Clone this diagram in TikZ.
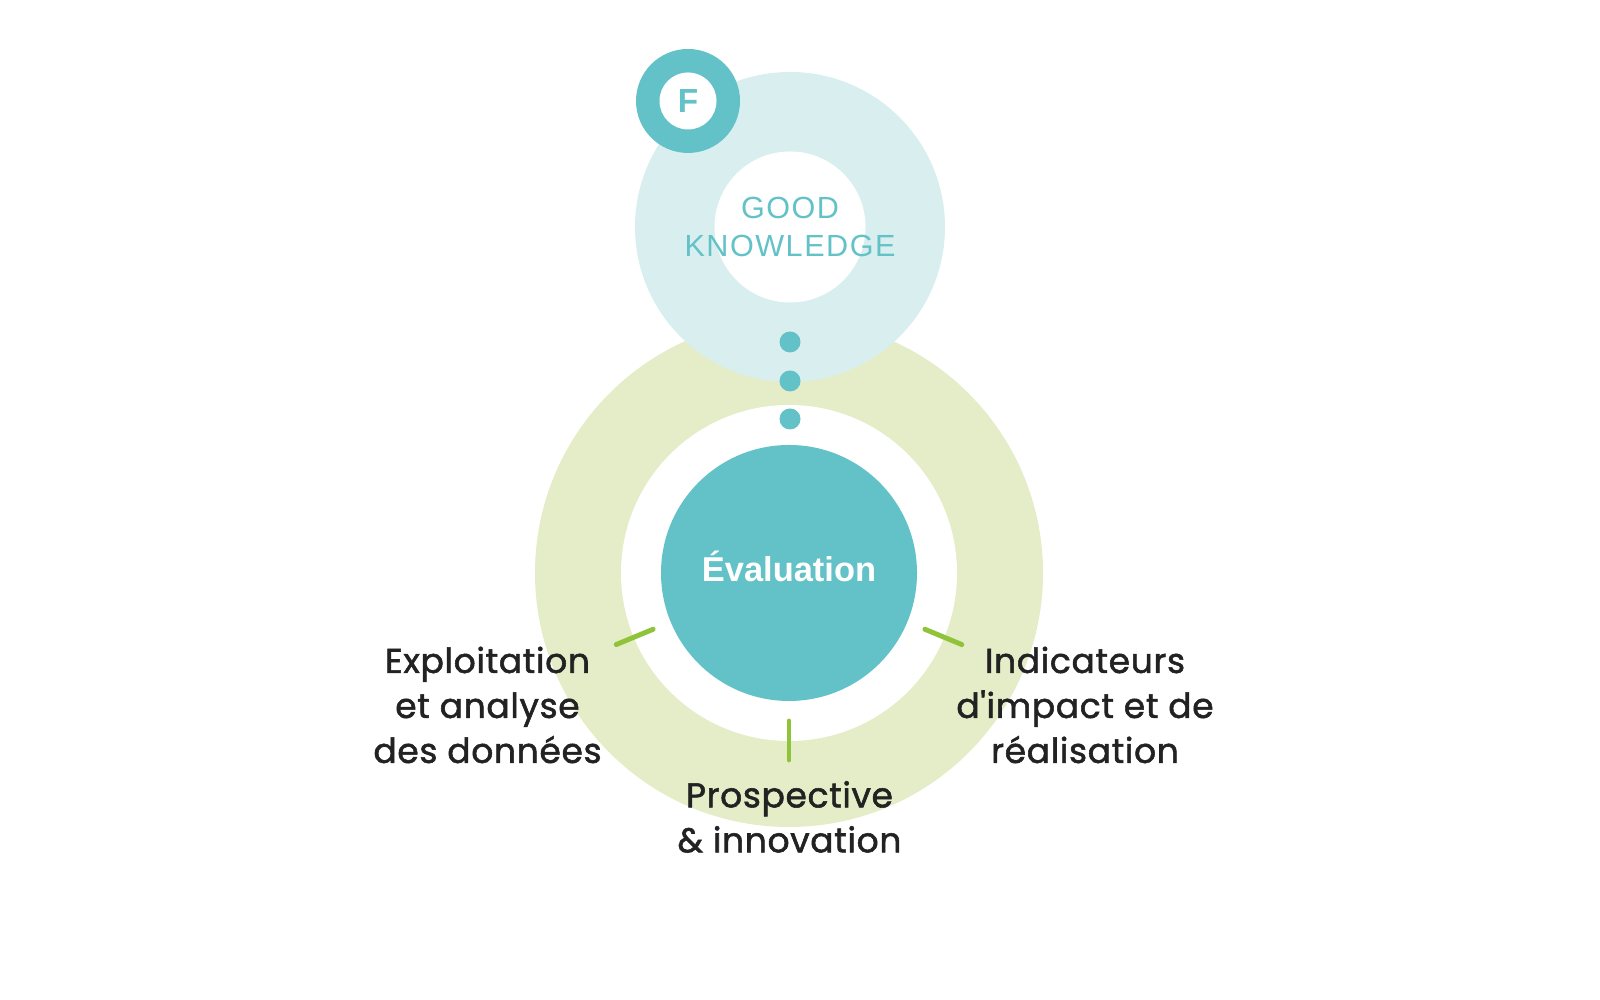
\documentclass[tikz,border=0pt]{standalone}
\usepackage{fontspec}
\setmainfont{Poppins}
\newfontfamily\lblfont[Ligatures=TeXOff, BoldFont=Poppins, BoldFeatures={FakeBold=1.6}, LetterSpace=2]{Poppins}
\newfontfamily\knowfont[LetterSpace=5]{Liberation Sans}
\newfontfamily\evalfont{Liberation Sans}
\usepackage{xcolor}
\usepackage{tikz}

\definecolor{tealc}{HTML}{63C2C7}
\definecolor{paleblue}{HTML}{D9EEEF}
\definecolor{palegreen}{HTML}{E4EDC7}
\definecolor{tickgreen}{HTML}{8FC33A}
\definecolor{txtgray}{HTML}{222222}

\tikzset{
	disc/.style={circle, inner sep=0pt, minimum size=#1},
	lbl/.style={font=\lblfont\bfseries\fontsize{9.8}{12.8}\selectfont, text=txtgray, align=center},
	tickmark/.style={draw=tickgreen, line width=1.4pt, line cap=round}
}

\begin{document}
\begin{tikzpicture}
		\useasboundingbox (0,0) rectangle (16,10);

		\coordinate (o) at (7.89, 4.27);
		\coordinate (k) at (7.90, 7.73);
		\coordinate (f) at (6.88, 8.99);

		\node (ring)  [disc=5.08cm, fill=palegreen] at (o) {};
		\node (hole)  [disc=3.36cm, fill=white]     at (o) {};
		\node (halo)  [disc=3.10cm, fill=paleblue]  at (k) {};
		\node (khole) [disc=1.51cm, fill=white]     at (k) {};
		\node (know)  [text=tealc, align=center,
			font=\knowfont\fontsize{8.7}{10.8}\selectfont] at (k) {GOOD\\KNOWLEDGE};

		\node (fring) [disc=1.04cm, fill=tealc] at (f) {};
		\node (fl)    [disc=0.57cm, fill=white, text=tealc,
			font=\evalfont\bfseries\fontsize{9.5}{10}\selectfont] at (f) {F};

		\foreach \y in {6.58, 6.19, 5.81}
			\fill [tealc] (7.90, \y) circle [radius=0.105];

		\node (eval)  [disc=2.56cm, fill=tealc] at (o) {};
		\node [text=white, anchor=base, font=\evalfont\bfseries\fontsize{9.8}{10}\selectfont]
			at (7.89, 4.18) {Évaluation};

		\draw [tickmark] (o) ++(202.5:1.47) -- ++(202.5:0.40);
		\draw [tickmark] (o) ++(270:1.48)   -- ++(270:0.39);
		\draw [tickmark] (o) ++(-22.5:1.47) -- ++(-22.5:0.40);

		\node (expl) [lbl] at (4.875, 2.95) {Exploitation\\et analyse\\des données};
		\node (ind)  [lbl] at (10.85, 2.95) {Indicateurs\\d'impact et de\\réalisation};
		\node (pros) [lbl] at (7.895, 1.83) {Prospective\\\& innovation};
	\end{tikzpicture}
\end{document}
